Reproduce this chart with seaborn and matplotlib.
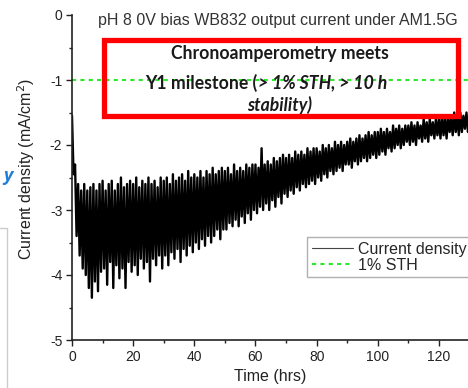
import numpy as np
import seaborn as sns
import matplotlib.pyplot as plt
from matplotlib.patches import Rectangle
from matplotlib.lines import Line2D
from matplotlib.ticker import MultipleLocator

sns.set_theme(style='ticks')
plt.rcParams['font.family'] = ['Liberation Sans', 'DejaVu Sans']
plt.rcParams['axes.unicode_minus'] = False

# current density (mA/cm2), one reading every half hour
step_hrs = 0.5
current = [
    -1.55, -2.45, -2.3, -3.4, -2.6, -3.7, -2.7, -3.9, -2.6, -4.0, -2.7, -4.2, -2.65, -4.35, -2.6, -4.1, -2.7, -4.25, -2.6, -3.95,
    -2.55, -3.9, -2.7, -4.15, -2.6, -3.8, -2.55, -4.2, -2.7, -3.85, -2.6, -4.05, -2.5, -3.9, -2.65, -4.2, -2.6, -3.8, -2.55, -3.95,
    -2.6, -3.85, -2.5, -4.0, -2.65, -3.75, -2.55, -3.9, -2.6, -3.8, -2.5, -4.1, -2.6, -3.75, -2.55, -3.85, -2.65, -3.7, -2.5, -3.9,
    -2.55, -3.7, -2.5, -3.85, -2.6, -3.65, -2.45, -3.75, -2.55, -3.6, -2.5, -3.8, -2.45, -3.6, -2.55, -3.7, -2.4, -3.55, -2.5, -3.65,
    -2.45, -3.5, -2.5, -3.6, -2.4, -3.45, -2.5, -3.55, -2.4, -3.4, -2.45, -3.5, -2.35, -3.4, -2.45, -3.3, -2.4, -3.45, -2.35, -3.3,
    -2.4, -3.3, -2.35, -3.2, -2.45, -3.25, -2.3, -3.15, -2.4, -3.25, -2.35, -3.1, -2.4, -3.2, -2.3, -3.05, -2.35, -3.15, -2.3, -3.0,
    -2.3, -3.05, -2.35, -2.95, -2.05, -3.0, -2.3, -2.9, -2.25, -3.0, -2.3, -2.85, -2.2, -2.95, -2.25, -2.8, -2.2, -2.9, -2.15, -2.75,
    -2.2, -2.8, -2.15, -2.7, -2.2, -2.75, -2.1, -2.65, -2.15, -2.7, -2.1, -2.6, -2.15, -2.65, -2.05, -2.6, -2.1, -2.55, -2.05, -2.6,
    -2.05, -2.5, -2.1, -2.55, -2.0, -2.45, -2.05, -2.5, -2.0, -2.4, -2.05, -2.45, -1.95, -2.4, -2.0, -2.35, -1.95, -2.4, -2.0, -2.3,
    -1.95, -2.3, -1.9, -2.35, -1.95, -2.25, -1.9, -2.3, -1.85, -2.25, -1.9, -2.2, -1.85, -2.25, -1.8, -2.2, -1.85, -2.15, -1.8, -2.2,
    -1.8, -2.15, -1.75, -2.1, -1.8, -2.15, -1.75, -2.05, -1.8, -2.1, -1.7, -2.05, -1.75, -2.0, -1.7, -2.05, -1.75, -2.0, -1.7, -1.95,
    -1.7, -2.0, -1.65, -1.95, -1.7, -2.0, -1.65, -1.9, -1.7, -1.95, -1.6, -1.9, -1.65, -1.95, -1.6, -1.85, -1.65, -1.9, -1.6, -1.85,
    -1.6, -1.9, -1.55, -1.85, -1.6, -1.9, -1.55, -1.8, -1.6, -1.85, -1.5, -1.8, -1.55, -1.85, -1.5, -1.8, -1.55, -1.75, -1.5, -1.8,
    -1.55,
]
time_hrs = np.arange(len(current)) * step_hrs
sth_level = -1.0

fig = plt.figure(figsize=(4.68, 3.88), dpi=100)
ax = fig.add_axes([72 / 468, 1 - 340 / 388, 396 / 468, 325 / 388])

sns.lineplot(x=time_hrs, y=current, ax=ax, color='black', lw=1.7, label='Current density')
ax.axhline(sth_level, color='#2ee82e', lw=1.5, ls=(0, (2, 2)), label='1% STH')

ax.set_xlim(0, 129.5)
ax.set_ylim(-5, 0)
ax.xaxis.set_major_locator(MultipleLocator(20))
ax.xaxis.set_minor_locator(MultipleLocator(10))
ax.yaxis.set_major_locator(MultipleLocator(1))
ax.yaxis.set_minor_locator(MultipleLocator(0.5))
ax.tick_params(which='major', length=4, width=1, labelsize=10, colors='#222222', pad=3)
ax.tick_params(which='minor', length=2.5, width=1, colors='#222222')
for s in ['top', 'right']:
    ax.spines[s].set_visible(False)
for s in ['left', 'bottom']:
    ax.spines[s].set_color('#222222')
    ax.spines[s].set_linewidth(1.2)

ax.set_xlabel('Time (hrs)', fontsize=11.5, color='#222222')
ax.set_ylabel('Current density (mA/cm$^2$)', fontsize=11.5, color='#222222')
ax.yaxis.set_label_coords(-0.088, 0.525)
ax.xaxis.set_label_coords(0.5, -0.09)

leg = ax.legend(loc='upper left', bbox_to_anchor=(307 / 468, 1 - 237 / 388),
                bbox_transform=fig.transFigure, fontsize=11.5, frameon=True,
                fancybox=False, edgecolor='#b0b0b0', framealpha=1,
                handlelength=2.6, handletextpad=0.3, borderpad=0.3, labelspacing=0.05,
                borderaxespad=0)
leg.get_lines()[0].set_linewidth(0.8)
leg.get_lines()[0].set_color('#444444')

fig.text(278 / 468, 1 - 20 / 388, 'pH 8 0V bias WB832 output current under AM1.5G',
         ha='center', va='center', fontsize=11.5, color='#333333')

# red callout box
fig.patches.append(Rectangle((104 / 468, 1 - 116 / 388), 354 / 468, 76 / 388,
                             transform=fig.transFigure, fill=False,
                             edgecolor='#ff0000', lw=3.8))
box_font = ['Lato', 'DejaVu Sans']
box_kw = dict(fontsize=12.7, fontweight='bold', family=box_font, color='#1a1a1a', va='center')
fig.text(280 / 468, 1 - 53 / 388, 'Chronoamperometry meets', ha='center', **box_kw)
fig.text(257 / 468, 1 - 83 / 388, 'Y1 milestone (', ha='right', **box_kw)
fig.text(258 / 468, 1 - 83 / 388, '> 1% STH, > 10 h', ha='left', style='italic', **box_kw)
fig.text(280 / 468, 1 - 105 / 388, 'stability)', ha='center', style='italic', **box_kw)

# slide leftovers at left edge
fig.text(8 / 468, 1 - 176 / 388, 'y', ha='center', va='center', fontsize=13,
         fontweight='bold', style='italic', color='#1f7fd6', family=['Open Sans', 'DejaVu Sans'])
fig.add_artist(Line2D([0, 7 / 468, 7 / 468], [1 - 228 / 388, 1 - 228 / 388, 0],
                      transform=fig.transFigure, color='#cccccc', lw=1))

fig.savefig('out.png', dpi=100)
